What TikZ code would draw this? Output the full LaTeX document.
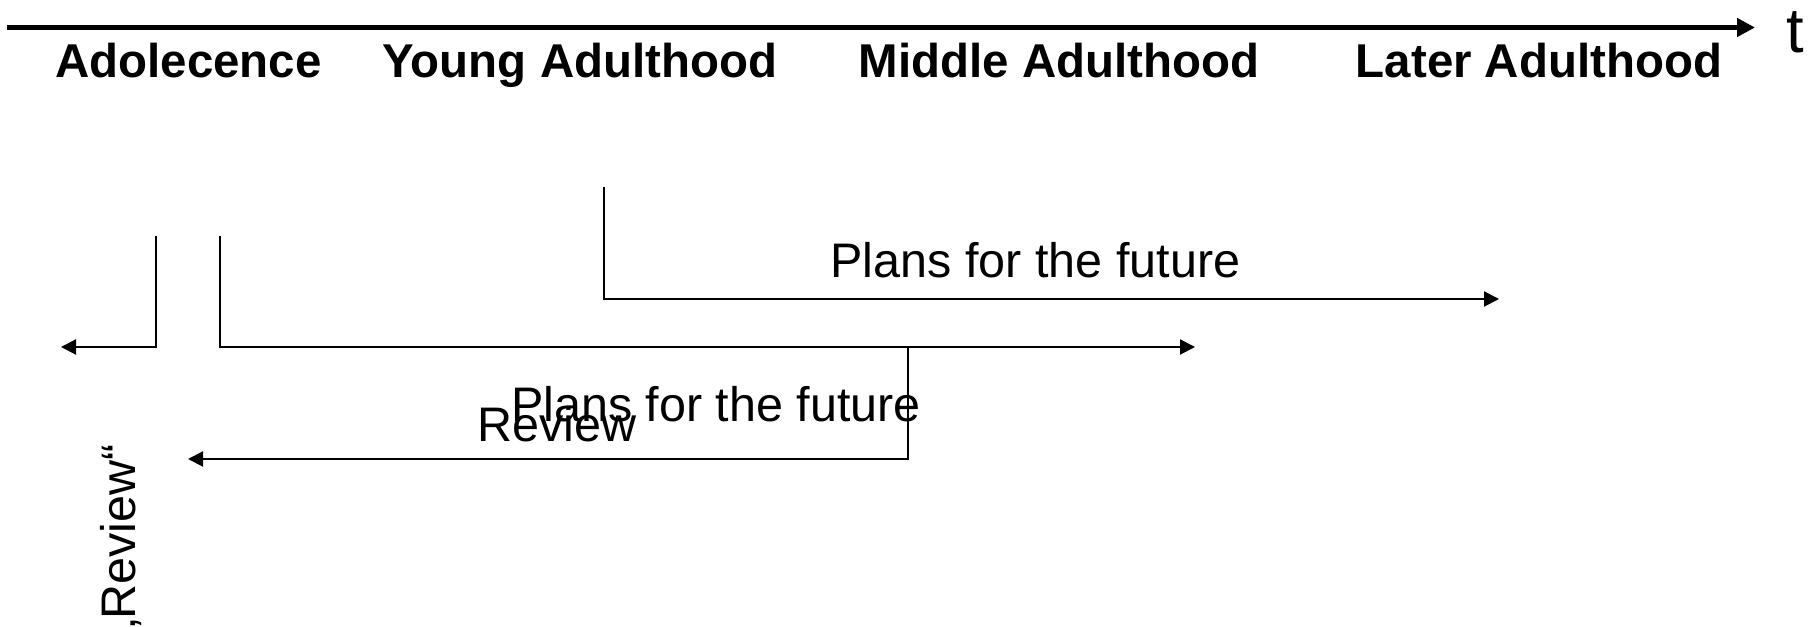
\documentclass[tikz,border=0pt]{standalone}
\usepackage{fontspec}
\setmainfont{Liberation Sans}
\usetikzlibrary{arrows.meta}

\begin{document}
\begin{tikzpicture}[axis/.style = {line width=1.5pt, -{Triangle[length=1.8mm, width=1.8mm]}},
			flow/.style = {line width=0.6pt, -{Triangle[length=1.5mm, width=1.5mm]}},
			phase/.style = {anchor=base, inner sep=0pt, font=\fontsize{13.5}{16}\selectfont\bfseries},
			letter/.style = {anchor=base, inner sep=0pt, font=\fontsize{13.8}{17}\selectfont}]
			
			\useasboundingbox (0,0) rectangle (18.13,6.27);
			
			\coordinate (t0) at (0.07,5.995);
			\coordinate (t1) at (17.55,5.995);
			\draw[axis] (t0) -- (t1);
			\node[letter, font=\fontsize{18}{21}\selectfont] (t) at (17.95,5.74) {t};
			
			\node[phase] (ado) at (1.885,5.495) {Adolecence};
			\node[phase] (young) at (5.80,5.495) {Young Adulthood};
			\node[phase] (middle) at (10.59,5.495) {Middle Adulthood};
			\node[phase] (later) at (15.39,5.495) {Later Adulthood};
			
			\coordinate (a1) at (6.04,4.40);
			\coordinate (a2) at (6.04,3.28);
			\coordinate (a3) at (14.99,3.28);
			\coordinate (b1) at (1.56,3.91);
			\coordinate (b2) at (1.56,2.80);
			\coordinate (b3) at (0.61,2.80);
			\coordinate (c1) at (2.20,3.91);
			\coordinate (c2) at (2.20,2.80);
			\coordinate (c3) at (11.95,2.80);
			\coordinate (d1) at (9.08,2.80);
			\coordinate (d2) at (9.08,1.68);
			\coordinate (d3) at (1.88,1.68);
			
			\draw[flow] (a1) -- (a2) -- (a3);
			\draw[flow] (b1) -- (b2) -- (b3);
			\draw[flow] (c1) -- (c2) -- (c3);
			\draw[flow] (d1) -- (d2) -- (d3);
			
			\node[letter] (plans1) at (10.355,3.495) {Plans for the future};
			\node[letter] (plans2) at (7.16,2.05) {Plans for the future};
			\node[letter] (rev) at (5.57,1.85) {Review};
			\node[letter, rotate=90] (rev2) at (1.35,0.87) {„Review“};
		\end{tikzpicture}
\end{document}
